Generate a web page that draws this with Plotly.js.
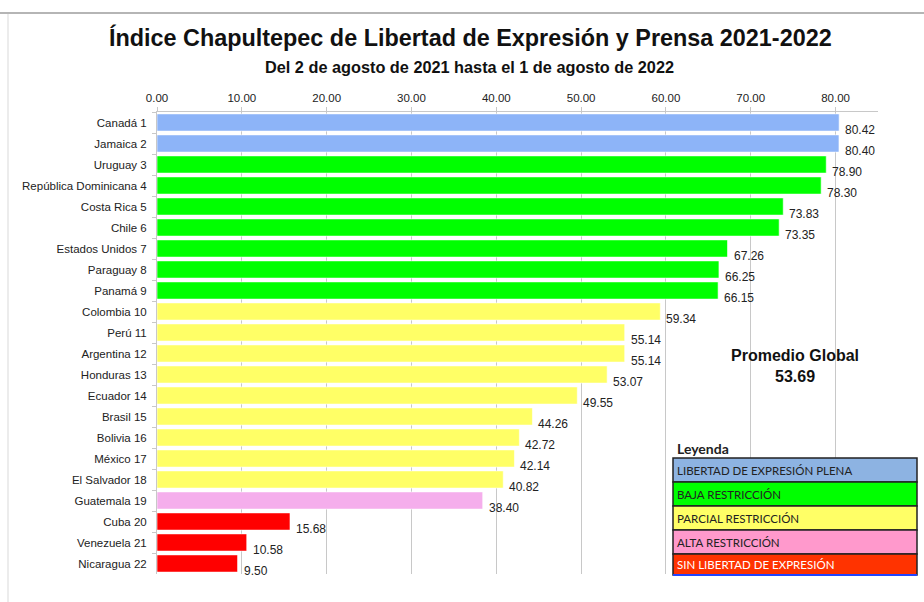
<!DOCTYPE html>
<html>
<head>
<meta charset="utf-8">
<script src="https://cdn.plot.ly/plotly-3.0.1.min.js"></script>
<style>html,body{margin:0;padding:0;background:#fff;}#chart{width:924px;height:602px;}</style>
</head>
<body>
<div id="chart"></div>
<script>
const countries = ["Canadá 1","Jamaica 2","Uruguay 3","República Dominicana 4","Costa Rica 5","Chile 6","Estados Unidos 7","Paraguay 8","Panamá 9","Colombia 10","Perú 11","Argentina 12","Honduras 13","Ecuador 14","Brasil 15","Bolivia 16","México 17","El Salvador 18","Guatemala 19","Cuba 20","Venezuela 21","Nicaragua 22"];
const scores = [80.42,80.40,78.90,78.30,73.83,73.35,67.26,66.25,66.15,59.34,55.14,55.14,53.07,49.55,44.26,42.72,42.14,40.82,38.40,15.68,10.58,9.50];
const levels = [0,0,1,1,1,1,1,1,1,2,2,2,2,2,2,2,2,2,3,4,4,4];
const levelNames = ["LIBERTAD DE EXPRESIÓN PLENA","BAJA RESTRICCIÓN","PARCIAL RESTRICCIÓN","ALTA RESTRICCIÓN","SIN LIBERTAD DE EXPRESIÓN"];
const barColors = ["#8db4f8","#00ff00","#ffff66","#f5aeec","#ff0000"];
const legendColors = ["#8db3e2","#00ff00","#ffff66","#ff99cc","#ff3300"];
const globalAverage = 53.69;
const xTicks = [0,10,20,30,40,50,60,70,80];

const trace = {
  type: "bar", orientation: "h",
  x: scores, y: countries,
  marker: {color: levels.map(l => barColors[l]), line: {color: "rgba(255,255,255,0.6)", width: 1}},
  hoverinfo: "x+y", showlegend: false
};

const W = 924, H = 602, mL = 157, mR = 46, mT = 112, mB = 28;
const pw = W - mL - mR, ph = H - mT - mB;
const px = x => (x - mL) / pw;
const py = y => 1 - (y - mT) / ph;

const annotations = scores.map((v, i) => ({
  x: v, y: countries[i], xref: "x", yref: "y",
  text: v.toFixed(2), showarrow: false, xanchor: "left", yanchor: "middle",
  xshift: 4, yshift: -7,
  font: {family: "Liberation Sans, Arial, sans-serif", size: 12, color: "#222"}
}));

annotations.push({
  xref: "paper", yref: "paper", x: px(469), y: py(67), xanchor: "center", yanchor: "middle",
  text: "<b>Del 2 de agosto de 2021 hasta el 1 de agosto de 2022</b>", showarrow: false,
  font: {family: "Liberation Sans, Arial, sans-serif", size: 16.3, color: "#111"}
});
// Average label
annotations.push({
  xref: "x", yref: "paper", x: 75.2, y: py(366), xanchor: "center", yanchor: "middle",
  text: "<b>Promedio Global</b><br><b>" + globalAverage.toFixed(2) + "</b>", showarrow: false,
  font: {family: "Liberation Sans, Arial, sans-serif", size: 16, color: "#111"}
});

// Legend table
const lgX0 = 673, lgX1 = 917;
const rowTops = [458, 482, 506, 530, 554];
const rowH = [24, 24, 24, 24, 21];

const shapes = [];
levelNames.forEach((name, i) => {
  shapes.push({type: "rect", xref: "paper", yref: "paper",
    x0: px(lgX0), x1: px(lgX1), y0: py(rowTops[i] + rowH[i]), y1: py(rowTops[i]),
    fillcolor: legendColors[i], line: {color: "#222", width: 1.5}, layer: "above"});
  annotations.push({xref: "paper", yref: "paper", x: px(lgX0 + 2), y: py(rowTops[i] + rowH[i] / 2),
    xanchor: "left", yanchor: "middle", showarrow: false, text: name,
    font: {family: "Liberation Sans Narrow, Lato, sans-serif", size: 11.5, color: i === 4 ? "#ffffff" : "#222"}});
});
shapes.push({type: "line", xref: "paper", yref: "paper", x0: px(lgX0), x1: px(lgX1), y0: py(575), y1: py(575), line: {color: "#2244ff", width: 2}, layer: "above"});
annotations.push({xref: "paper", yref: "paper", x: px(675), y: py(448), xanchor: "left", yanchor: "middle", showarrow: false,
  text: "<b>Leyenda</b>", font: {family: "Liberation Sans Narrow, Lato, sans-serif", size: 14, color: "#222"}});
// Outer frame
shapes.push({type: "line", xref: "paper", yref: "paper", x0: px(0), x1: px(924), y0: py(13), y1: py(13), line: {color: "#b5b5b5", width: 2}});
shapes.push({type: "line", xref: "paper", yref: "paper", x0: px(8), x1: px(8), y0: py(14), y1: py(602), line: {color: "#d9d9d9", width: 1}});

const layout = {
  width: W, height: H,
  margin: {l: mL, r: mR, t: mT, b: mB},
  paper_bgcolor: "#ffffff", plot_bgcolor: "#ffffff",
  title: {text: "<b>Índice Chapultepec de Libertad de Expresión y Prensa 2021-2022</b>",
    x: 0.509, xanchor: "center", y: 0.937, yanchor: "middle",
    font: {family: "Liberation Sans, Arial, sans-serif", size: 23.4, color: "#111"}},
  bargap: 0.18,
  xaxis: {side: "top", range: [0, 85], tickvals: xTicks, ticktext: xTicks.map(v => v.toFixed(2)),
    showgrid: true, gridcolor: "#c8c8c8", gridwidth: 1, zeroline: false,
    showline: true, linecolor: "#c8c8c8", ticks: "outside", ticklen: 4, tickcolor: "#c8c8c8",
    tickfont: {family: "Liberation Sans, Arial, sans-serif", size: 11.5, color: "#222"}, fixedrange: true},
  yaxis: {range: [countries.length - 0.5, -0.5], showline: true, linecolor: "#c8c8c8", ticks: "outside", tickson: "boundaries",
    ticklen: 4, tickcolor: "#c8c8c8", showgrid: false, ticklabelstandoff: 7,
    tickfont: {family: "Liberation Sans, Arial, sans-serif", size: 11.5, color: "#222"}, fixedrange: true},
  annotations: annotations, shapes: shapes
};

Plotly.newPlot("chart", [trace], layout, {displayModeBar: false, staticPlot: true});
</script>
</body>
</html>
